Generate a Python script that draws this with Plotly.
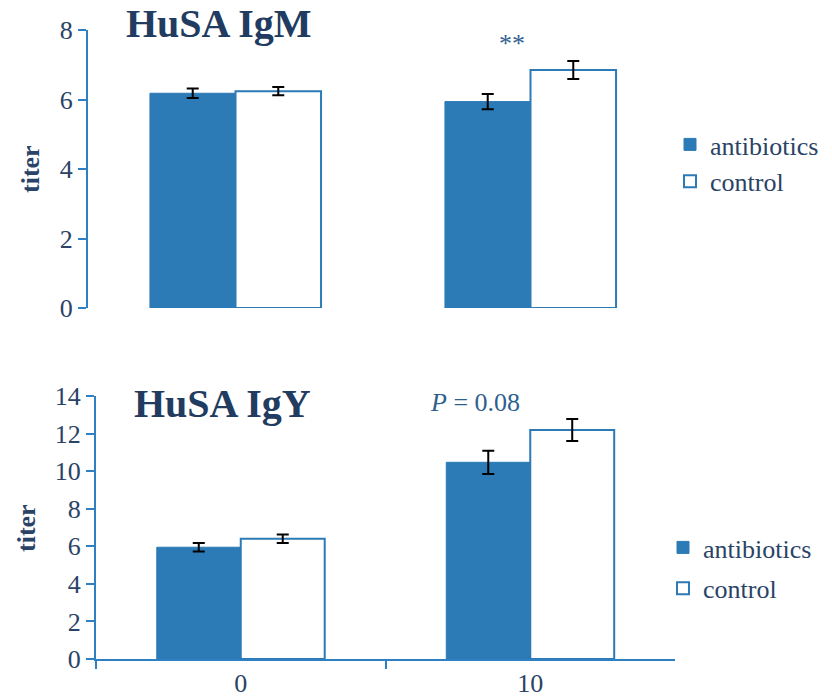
import plotly.graph_objects as go

# ---- data ----
days = ["0", "10"]
igm_antibiotics = [6.18, 5.94]
igm_antibiotics_err = [0.14, 0.22]
igm_control = [6.24, 6.85]
igm_control_err = [0.12, 0.26]

igy_antibiotics = [5.95, 10.47]
igy_antibiotics_err = [0.23, 0.62]
igy_control = [6.40, 12.19]
igy_control_err = [0.23, 0.59]

y_ticks_top = [0, 2, 4, 6, 8]
y_ticks_bottom = [0, 2, 4, 6, 8, 10, 12, 14]

# ---- style ----
W, H = 832, 700
BLUE = "#2C7AB6"
AXIS_BLUE = "#2F80C2"
TEXT = "#2A4366"
TITLE = "#213C60"
NOTE = "#2F5F8F"
FONT = "'Liberation Serif', 'Times New Roman', Times, serif"

def px_x(p):
    return p / W

def px_y(p):
    return 1 - p / H

fig = go.Figure()

err_style = dict(type="data", color="black", thickness=2, width=6, visible=True)

fig.add_trace(go.Bar(x=days, y=igm_antibiotics, name="antibiotics",
                     marker=dict(color=BLUE, line=dict(color=BLUE, width=1)),
                     error_y=dict(array=igm_antibiotics_err, **err_style),
                     xaxis="x", yaxis="y", legend="legend"))
fig.add_trace(go.Bar(x=days, y=igm_control, name="control",
                     marker=dict(color="white", line=dict(color=BLUE, width=2)),
                     error_y=dict(array=igm_control_err, **err_style),
                     xaxis="x", yaxis="y", legend="legend"))
fig.add_trace(go.Bar(x=days, y=igy_antibiotics, name="antibiotics",
                     marker=dict(color=BLUE, line=dict(color=BLUE, width=1)),
                     error_y=dict(array=igy_antibiotics_err, **err_style),
                     xaxis="x2", yaxis="y2", legend="legend2", legendgroup="a2"))
fig.add_trace(go.Bar(x=days, y=igy_control, name="control",
                     marker=dict(color="white", line=dict(color=BLUE, width=2)),
                     error_y=dict(array=igy_control_err, **err_style),
                     xaxis="x2", yaxis="y2", legend="legend2", legendgroup="c2"))

tickfont = dict(family=FONT, size=26, color=TEXT)

fig.update_layout(
    width=W, height=H,
    margin=dict(l=0, r=0, t=0, b=0),
    paper_bgcolor="white", plot_bgcolor="white",
    barmode="group", bargap=0.42, bargroupgap=0,
    font=dict(family=FONT, size=26, color=TEXT),
    xaxis=dict(domain=[px_x(88), px_x(678)], anchor="y", type="category",
               range=[-0.5, 1.5], showticklabels=False, showline=False,
               ticks="", showgrid=False, zeroline=False, automargin=False),
    yaxis=dict(domain=[px_y(308), px_y(30)], anchor="x", range=[0, 8],
               tickvals=y_ticks_top, showline=True, linecolor=AXIS_BLUE, linewidth=2,
               ticks="outside", ticklen=8, tickwidth=2, tickcolor=AXIS_BLUE,
               showgrid=False, zeroline=False, tickfont=tickfont, automargin=False),
    xaxis2=dict(domain=[px_x(96), px_x(675)], anchor="y2", type="category",
                range=[-0.5, 1.5], showline=True, linecolor=AXIS_BLUE, linewidth=2,
                ticks="outside", tickson="boundaries", ticklen=8, tickwidth=2,
                tickcolor=AXIS_BLUE, showgrid=False, zeroline=False,
                tickfont=tickfont, automargin=False),
    yaxis2=dict(domain=[px_y(659), px_y(396)], anchor="x2", range=[0, 14],
                tickvals=y_ticks_bottom, showline=True, linecolor=AXIS_BLUE, linewidth=2,
                ticks="outside", ticklen=8, tickwidth=2, tickcolor=AXIS_BLUE,
                showgrid=False, zeroline=False, tickfont=tickfont, automargin=False),
    legend=dict(x=px_x(670), y=px_y(163), xanchor="left", yanchor="middle",
                font=dict(family=FONT, size=26, color=TEXT), bgcolor="rgba(0,0,0,0)",
                itemwidth=30),
    legend2=dict(x=px_x(663), y=px_y(568), xanchor="left", yanchor="middle",
                 font=dict(family=FONT, size=26, color=TEXT), bgcolor="rgba(0,0,0,0)",
                 itemwidth=30, traceorder="grouped", tracegroupgap=4),
    showlegend=True,
)

annotations = [
    dict(text="<b>HuSA IgM</b>", x=px_x(219), y=px_y(24), xref="paper", yref="paper",
         showarrow=False, font=dict(family=FONT, size=40, color=TITLE),
         xanchor="center", yanchor="middle"),
    dict(text="<b>HuSA IgY</b>", x=px_x(222), y=px_y(403), xref="paper", yref="paper",
         showarrow=False, font=dict(family=FONT, size=40, color=TITLE),
         xanchor="center", yanchor="middle"),
    dict(text="<b>titer</b>", x=px_x(30), y=px_y(169), xref="paper", yref="paper",
         showarrow=False, textangle=-90, font=dict(family=FONT, size=26, color=TEXT),
         xanchor="center", yanchor="middle"),
    dict(text="<b>titer</b>", x=px_x(26), y=px_y(528), xref="paper", yref="paper",
         showarrow=False, textangle=-90, font=dict(family=FONT, size=26, color=TEXT),
         xanchor="center", yanchor="middle"),
    dict(text="**", x=px_x(512), y=px_y(44), xref="paper", yref="paper",
         showarrow=False, font=dict(family=FONT, size=26, color=NOTE),
         xanchor="center", yanchor="middle"),
    dict(text="<i>P</i> = 0.08", x=px_x(475), y=px_y(402), xref="paper", yref="paper",
         showarrow=False, font=dict(family=FONT, size=26, color=NOTE),
         xanchor="center", yanchor="middle"),
]
fig.update_layout(annotations=annotations)

fig.write_html("out.html")
